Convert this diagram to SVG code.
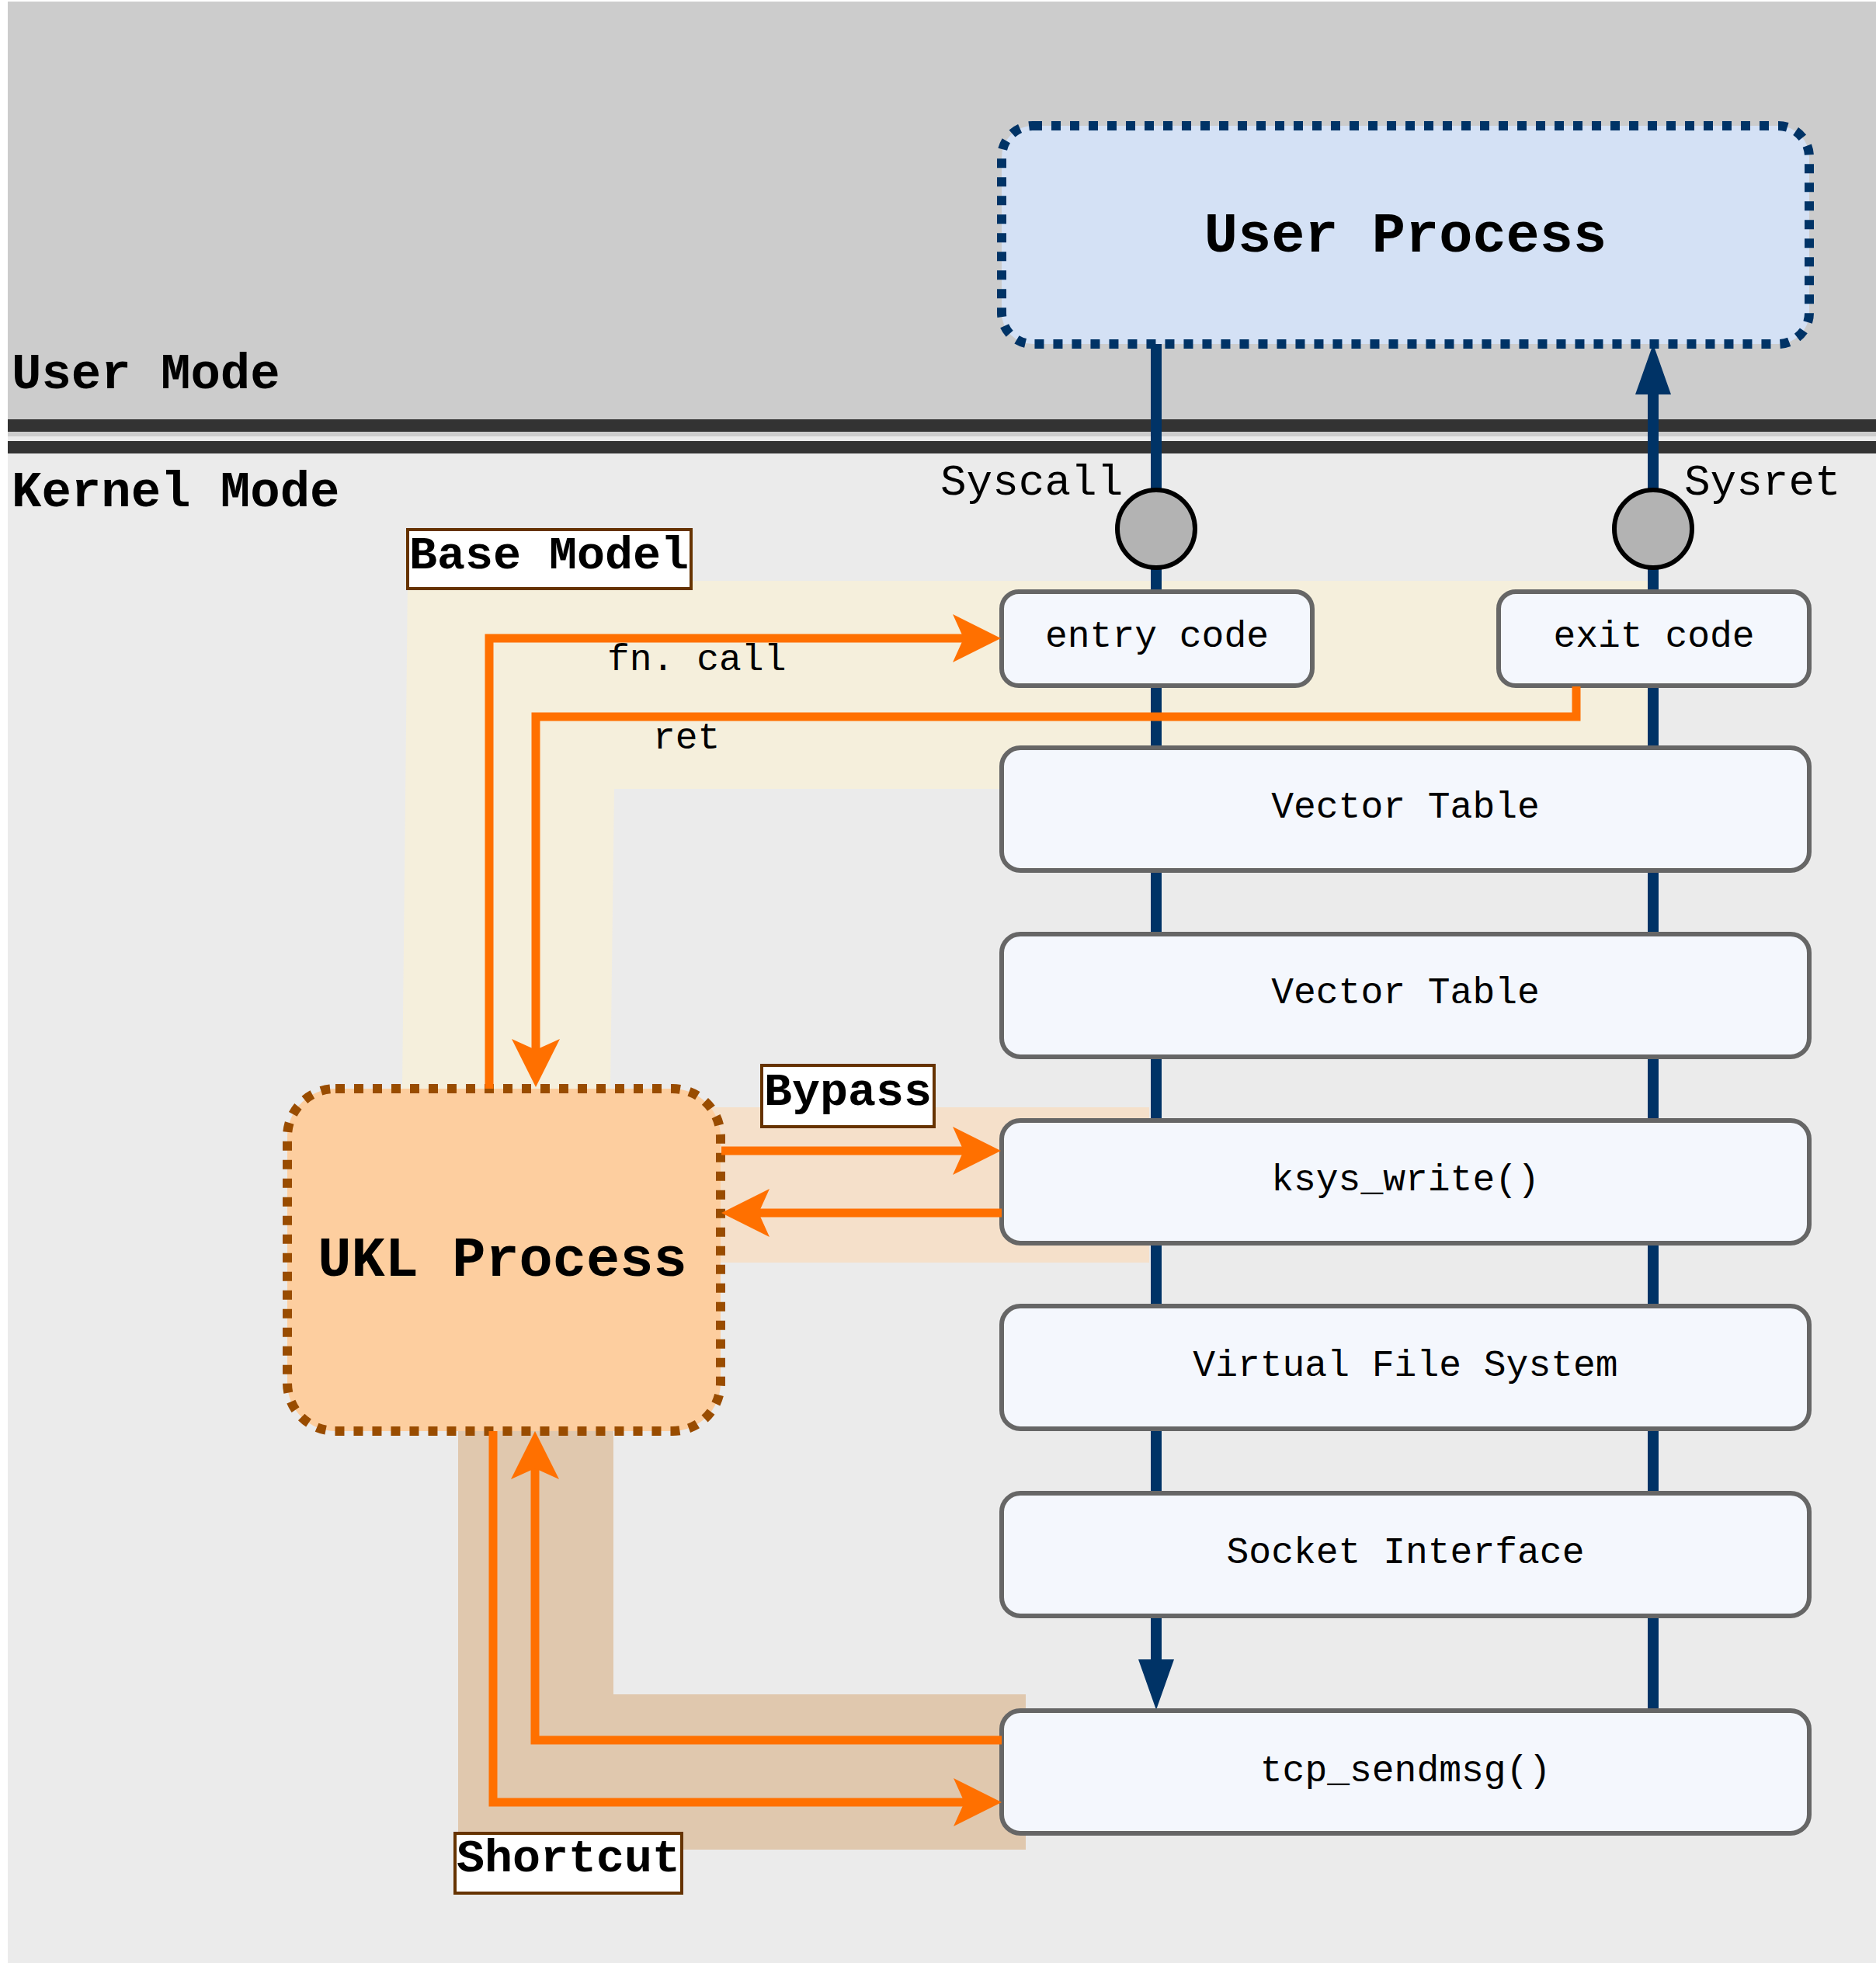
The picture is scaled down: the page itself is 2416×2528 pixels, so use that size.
<svg xmlns="http://www.w3.org/2000/svg" width="2416" height="2528" viewBox="0 0 2416 2528">
<style>
.bold{font-family:"Liberation Mono","Courier New",monospace;font-weight:bold;fill:#000}
.mono{font-family:"Liberation Mono","Courier New",monospace;fill:#000}
.box{fill:#f4f7fd;stroke:#666666;stroke-width:6}
.lbl{fill:#ffffff;stroke:#663300;stroke-width:4}
.navy{fill:none;stroke:#003366;stroke-width:14}
.org{fill:none;stroke:#ff7000;stroke-width:11}
</style>
<defs>
<marker id="oh" markerUnits="userSpaceOnUse" markerWidth="80" markerHeight="80" viewBox="-20 -40 80 80" refX="0" refY="0" orient="auto">
<path d="M48,0 L-14,-31 L0,0 L-14,31 Z" fill="#ff7000"/>
</marker>
</defs>
<g id="background">
<rect x="10" y="2" width="2406" height="560" fill="#cccccc"/>
<rect x="10" y="562" width="2406" height="1966" fill="#ebebeb"/>
<rect x="10" y="540" width="2406" height="16" fill="#333333"/>
<rect x="10" y="568" width="2406" height="16" fill="#333333"/>
<text class="bold" x="15" y="500" font-size="64">User Mode</text>
<text class="bold" x="15" y="652" font-size="64">Kernel Mode</text>
</g>
<g id="bands">
<polygon points="525,748 2122,748 2122,1016 791,1016 786,1402 518,1402" fill="#f5efdc"/>
<rect x="900" y="1426" width="580" height="200" fill="#f5e0ca"/>
<polygon points="590,1843 790,1843 790,2182 1321,2182 1321,2382 590,2382" fill="#e0c8ae"/>
</g>
<g id="syscall-lines">
<path class="navy" d="M1489,443 V2140"/>
<polygon points="1466,2137 1512,2137 1489,2202" fill="#003366"/>
<path class="navy" d="M2129,2202 V505"/>
<polygon points="2106,508 2152,508 2129,443" fill="#003366"/>
</g>
<g id="user-process">
<rect x="1290" y="162" width="1040" height="281" rx="40" fill="#d4e1f5" stroke="#003366" stroke-width="12" stroke-dasharray="12 12"/>
<text class="bold" x="1810" y="324" font-size="72" text-anchor="middle">User Process</text>
</g>
<g id="syscall-gate">
<circle cx="1489" cy="681" r="50" fill="#b3b3b3" stroke="#000" stroke-width="6"/>
<text class="mono" x="1211" y="637" font-size="56">Syscall</text>
</g>
<g id="sysret-gate">
<circle cx="2129" cy="681" r="50" fill="#b3b3b3" stroke="#000" stroke-width="6"/>
<text class="mono" x="2169" y="637" font-size="56">Sysret</text>
</g>
<g id="entry-code">
<rect class="box" x="1290" y="762" width="400" height="121" rx="22"/>
<text class="mono" x="1490" y="833" font-size="48" text-anchor="middle">entry code</text>
</g>
<g id="exit-code">
<rect class="box" x="1930" y="762" width="400" height="121" rx="22"/>
<text class="mono" x="2130" y="833" font-size="48" text-anchor="middle">exit code</text>
</g>
<g id="vector-table-1">
<rect class="box" x="1290" y="963" width="1040" height="158" rx="24"/>
<text class="mono" x="1810" y="1053" font-size="48" text-anchor="middle">Vector Table</text>
</g>
<g id="vector-table-2">
<rect class="box" x="1290" y="1203" width="1040" height="158" rx="24"/>
<text class="mono" x="1810" y="1292" font-size="48" text-anchor="middle">Vector Table</text>
</g>
<g id="ksys-write">
<rect class="box" x="1290" y="1443" width="1040" height="158" rx="24"/>
<text class="mono" x="1810" y="1533" font-size="48" text-anchor="middle">ksys_write()</text>
</g>
<g id="vfs">
<rect class="box" x="1290" y="1682" width="1040" height="158" rx="24"/>
<text class="mono" x="1810" y="1772" font-size="48" text-anchor="middle">Virtual File System</text>
</g>
<g id="socket-interface">
<rect class="box" x="1290" y="1923" width="1040" height="158" rx="24"/>
<text class="mono" x="1810" y="2013" font-size="48" text-anchor="middle">Socket Interface</text>
</g>
<g id="tcp-sendmsg">
<rect class="box" x="1290" y="2203" width="1040" height="158" rx="24"/>
<text class="mono" x="1810" y="2294" font-size="48" text-anchor="middle">tcp_sendmsg()</text>
</g>
<g id="ukl-process">
<rect x="370" y="1402" width="558" height="441" rx="62" fill="#fdce9f" stroke="#994c00" stroke-width="12" stroke-dasharray="12 12"/>
<text class="bold" x="647" y="1643" font-size="72" text-anchor="middle">UKL Process</text>
</g>
<g id="connectors">
<path class="org" d="M630,1402 V822 H1241" marker-end="url(#oh)"/>
<path class="org" d="M2030,884 V923 H690 V1352" marker-end="url(#oh)"/>
<path class="org" d="M929,1482 H1241" marker-end="url(#oh)"/>
<path class="org" d="M1290,1562 H977" marker-end="url(#oh)"/>
<path class="org" d="M635,1843 V2321 H1242" marker-end="url(#oh)"/>
<path class="org" d="M1290,2241 H689 V1891" marker-end="url(#oh)"/>
<text class="mono" x="782" y="863" font-size="48">fn. call</text>
<text class="mono" x="841" y="964" font-size="48">ret</text>
</g>
<g id="label-base-model">
<rect class="lbl" x="525" y="682" width="365" height="76"/>
<text class="bold" x="707" y="732" font-size="60" text-anchor="middle">Base Model</text>
</g>
<g id="label-bypass">
<rect class="lbl" x="981" y="1372" width="222" height="79"/>
<text class="bold" x="1092" y="1423" font-size="60" text-anchor="middle">Bypass</text>
</g>
<g id="label-shortcut">
<rect class="lbl" x="586" y="2361" width="292" height="77"/>
<text class="bold" x="732" y="2410" font-size="60" text-anchor="middle">Shortcut</text>
</g>
</svg>
